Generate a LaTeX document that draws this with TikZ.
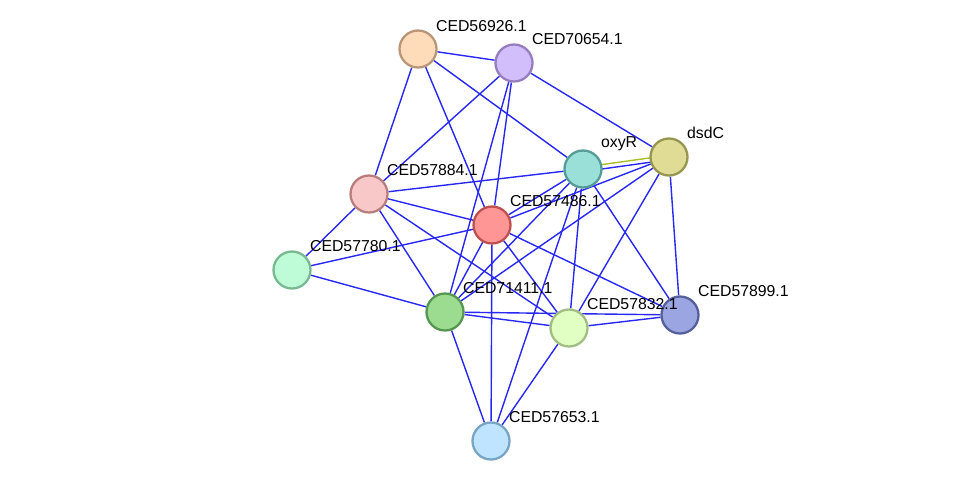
\documentclass[tikz,border=0pt]{standalone}
\usepackage{fontspec}
\setmainfont{Liberation Sans}
\usetikzlibrary{backgrounds}
\definecolor{edgeblue}{RGB}{40,40,245}
\definecolor{edgeyel}{RGB}{170,190,40}
\begin{document}
\begin{tikzpicture}[x=0.02cm,y=-0.02cm,
  prot/.style={circle,minimum size=0.74cm,line width=1.3pt,inner sep=0pt},
  lab/.style={font=\fontsize{9}{10}\selectfont,anchor=south west,inner sep=1pt},
  edge/.style={draw=edgeblue,line width=0.8pt}]
\useasboundingbox (0,0) rectangle (976,487);
\def\P#1#2#3#4{\node[prot,fill={rgb,255:#3},draw={rgb,255:#4}] (#1) at (#2) {};}
\P{a}{418,49}{red,254;green,220;blue,186}{red,185;green,150;blue,120}
\P{b}{514,63}{red,210;green,190;blue,250}{red,150;green,125;blue,190}
\P{o}{583,169}{red,155;green,224;blue,216}{red,85;green,155;blue,150}
\P{d}{669,157}{red,224;green,220;blue,150}{red,150;green,150;blue,80}
\P{c}{369,194}{red,248;green,200;blue,200}{red,185;green,125;blue,125}
\P{e}{492,225}{red,255;green,150;blue,150}{red,190;green,80;blue,80}
\P{f}{292,270}{red,190;green,252;blue,215}{red,120;green,185;blue,145}
\P{g}{445,312}{red,155;green,220;blue,145}{red,85;green,150;blue,80}
\P{h}{569,328}{red,225;green,255;blue,195}{red,160;green,190;blue,130}
\P{i}{680,315}{red,155;green,165;blue,225}{red,85;green,95;blue,155}
\P{j}{491,441}{red,190;green,228;blue,255}{red,120;green,165;blue,195}
\begin{pgfonlayer}{background}
\foreach \u/\v in {a/b,a/o,a/c,a/e,b/d,b/c,b/g,b/e,o/c,o/e,o/g,o/h,o/i,o/j,
  d/e,d/g,d/h,d/i,c/e,c/f,c/g,c/h,e/f,e/g,e/h,e/i,e/j,f/g,g/h,g/i,g/j,h/i,h/j}
  {\path[edge] (\u) -- (\v);}
\draw[edgeyel,line width=0.8pt] ([yshift=1pt]o.center) -- ([yshift=1pt]d.center);
\draw[edgeblue,line width=0.8pt] ([yshift=-1.5pt]o.center) -- ([yshift=-1.5pt]d.center);
\end{pgfonlayer}
\node[lab] at (434,34) {CED56926.1};
\node[lab] at (530,47) {CED70654.1};
\node[lab] at (599,153) {oxyR};
\node[lab] at (685,141) {dsdC};
\node[lab] at (385,178) {CED57884.1};
\node[lab] at (508,209) {CED57486.1};
\node[lab] at (308,254) {CED57780.1};
\node[lab] at (461,296) {CED71411.1};
\node[lab] at (585,312) {CED57832.1};
\node[lab] at (696,299) {CED57899.1};
\node[lab] at (507,425) {CED57653.1};
\end{tikzpicture}
\end{document}
